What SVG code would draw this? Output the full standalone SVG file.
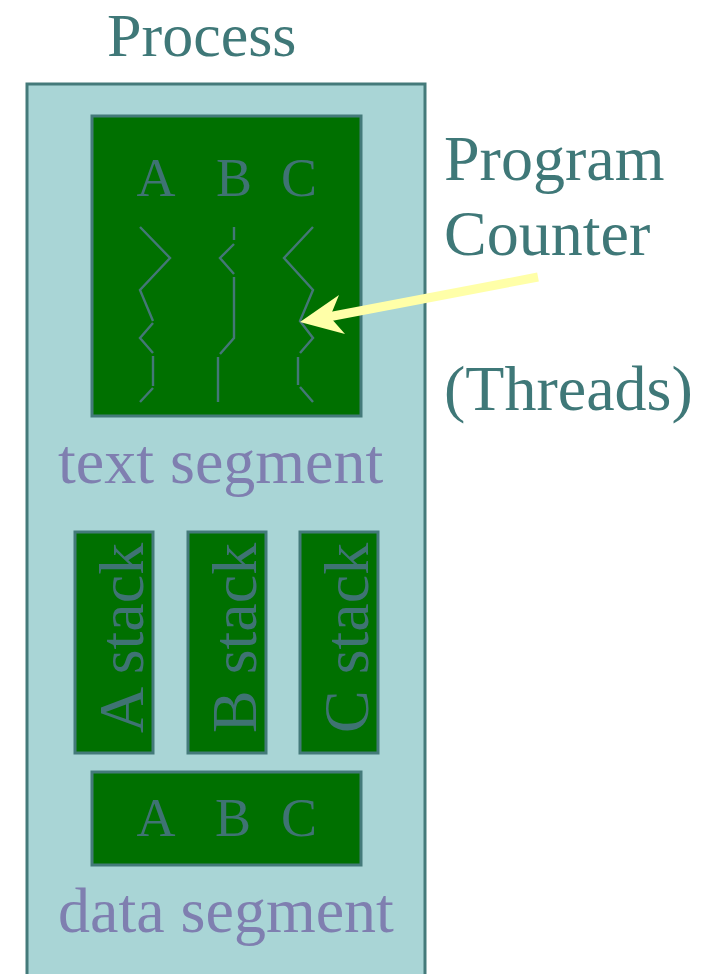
<svg xmlns="http://www.w3.org/2000/svg" width="710" height="974" viewBox="0 0 710 974">
  <style>
    text { font-family: "Liberation Serif", "Times New Roman", serif; }
    .title { font-size: 62px; fill: #3f7878; }
    .side { font-size: 64px; fill: #3f7878; }
    .seg { font-size: 64px; fill: #7f7fb0; }
    .box { fill: #007000; stroke: #447a7a; stroke-width: 3; }
    .inner { font-size: 54px; fill: #3f7373; }
    .stack { font-size: 64px; fill: #3f7373; }
    .thread { fill: none; stroke: #447777; stroke-width: 2.4; stroke-linejoin: miter; }
  </style>

  <rect width="710" height="974" fill="#ffffff"/>

  <g id="process">
    <rect x="27" y="84" width="398" height="900" fill="#a9d5d6" stroke="#447a7a" stroke-width="3"/>
    <text class="title" x="107" y="56">Process</text>
  </g>

  <g id="text-segment">
    <rect class="box" x="92" y="116" width="269" height="300"/>
    <text class="inner" x="156" y="196" text-anchor="middle">A</text>
    <text class="inner" x="234" y="196" text-anchor="middle">B</text>
    <text class="inner" x="299" y="196" text-anchor="middle">C</text>
    <!-- execution traces of the three threads -->
    <polyline class="thread" points="140,227 170,258 140,290 153,321"/>
    <polyline class="thread" points="153,323 140,338 153,353"/>
    <polyline class="thread" points="153,356 153,386"/>
    <polyline class="thread" points="153,388 140,402"/>
    <polyline class="thread" points="234,227 234,240"/>
    <polyline class="thread" points="234,244 220,258 234,274"/>
    <polyline class="thread" points="234,277 234,338 220,354"/>
    <polyline class="thread" points="218,357 218,402"/>
    <polyline class="thread" points="313,227 284,258 313,290 300,321 313,338 300,353"/>
    <polyline class="thread" points="298,357 298,385"/>
    <polyline class="thread" points="300,387 313,402"/>
    <text class="seg" x="58" y="483">text segment</text>
  </g>

  <g id="a-stack">
    <rect class="box" x="75" y="532" width="78" height="221"/>
    <text class="stack" transform="translate(143,733) rotate(-90)">A stack</text>
  </g>
  <g id="b-stack">
    <rect class="box" x="188" y="532" width="78" height="221"/>
    <text class="stack" transform="translate(256,733) rotate(-90)">B stack</text>
  </g>
  <g id="c-stack">
    <rect class="box" x="300" y="532" width="78" height="221"/>
    <text class="stack" transform="translate(368,733) rotate(-90)">C stack</text>
  </g>

  <g id="data-segment">
    <rect class="box" x="92" y="772" width="269" height="93"/>
    <text class="inner" x="156" y="836" text-anchor="middle">A</text>
    <text class="inner" x="233" y="836" text-anchor="middle">B</text>
    <text class="inner" x="299" y="836" text-anchor="middle">C</text>
    <text class="seg" x="58" y="932">data segment</text>
  </g>

  <g id="program-counter">
    <text class="side" x="444" y="180">Program</text>
    <text class="side" x="444" y="255">Counter</text>
    <text class="side" x="444" y="410">(Threads)</text>
  </g>

  <g id="connectors">
    <line x1="538" y1="277" x2="328" y2="317" stroke="#ffffa8" stroke-width="9"/>
    <polygon points="300,322 339,295 330,317 345,334" fill="#ffffa8"/>
  </g>
</svg>
